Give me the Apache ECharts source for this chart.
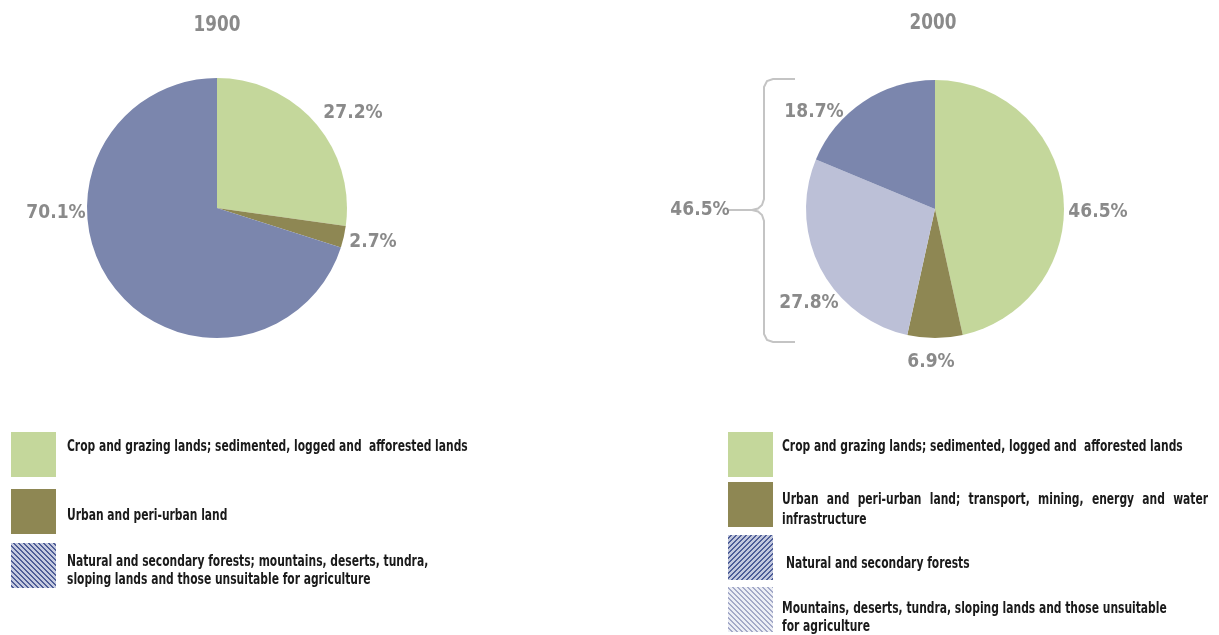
<!DOCTYPE html>
<html>
<head>
<meta charset="utf-8">
<script src="https://cdn.jsdelivr.net/npm/echarts@6/dist/echarts.min.js"></script>
<style>
  html, body { margin: 0; padding: 0; background: #ffffff; }
  #chart { width: 1219px; height: 635px; }
</style>
</head>
<body>
<div id="chart"></div>
<script>
// ---- data ----
const years = ['1900', '2000'];

const categories1900 = [
  'Crop and grazing lands; sedimented, logged and  afforested lands',
  'Urban and peri-urban land',
  'Natural and secondary forests; mountains, deserts, tundra,\nsloping lands and those unsuitable for agriculture'
];
const values1900 = [27.2, 2.7, 70.1];

const categories2000 = [
  'Crop and grazing lands; sedimented, logged and  afforested lands',
  'Urban and peri-urban land; transport, mining, energy and water\ninfrastructure',
  'Natural and secondary forests',
  'Mountains, deserts, tundra, sloping lands and those unsuitable\nfor agriculture'
];
const values2000 = [46.5, 6.9, 18.7, 27.8];

// clockwise slice order in the 2000 pie (category indices)
const sliceOrder2000 = [0, 1, 3, 2];
// categories grouped by the brace on the 2000 pie
const bracedCategories2000 = [2, 3];

// ---- styles / layout ----
const FONT = '"DejaVu Sans Condensed", "Liberation Sans Narrow", sans-serif';
const GREY = '#8a8a8a';
const COLORS = {
  crop: '#c4d79b',
  urban: '#8e8753',
  forest: '#7b86ad',
  mountain: '#bcc0d7'
};

const PIE_1900 = { center: [217, 208], radius: 130 };
const PIE_2000 = { center: [935, 209], radius: 129 };

// label anchor points per slice
const LABEL_POS_1900 = [[353, 113], [373, 242], [56, 213]];
const LABEL_POS_2000 = [[1098, 212], [931, 362], [809, 303], [814, 112]];
const LABEL_SIZE = 19;

// striped swatch tile, drawn pixel by pixel so the stripes stay crisp
function hatch(bg, fg, dir) {
  const p = 5;
  const c = document.createElement('canvas');
  c.width = p; c.height = p;
  const ctx = c.getContext('2d');
  ctx.fillStyle = bg;
  ctx.fillRect(0, 0, p, p);
  ctx.fillStyle = fg;
  for (let y = 0; y < p; y++) {
    for (let x = 0; x < p; x++) {
      const d = dir === 'back' ? x - y : x + y;
      const m = ((d % p) + p) % p;
      if (m < 2) ctx.fillRect(x, y, 1, 1);
    }
  }
  return { image: c, repeat: 'repeat' };
}

const swatch1900 = [COLORS.crop, COLORS.urban, hatch('#c6cbe0', '#4e5d97', 'back')];
const swatch2000 = [COLORS.crop, COLORS.urban, hatch('#c3c9de', '#4f5e98', 'fwd'), hatch('#eceef5', '#a3a9c8', 'back')];

const legend1900 = {
  x: 11, textX: 67,
  boxes: [432, 489, 543],
  textY: [[447], [516], [562, 580]]
};
const legend2000 = {
  x: 728, textX: 782,
  boxes: [432, 482, 535, 587],
  textY: [[447], [500, 520], [564], [609, 627]],
  justify: { 1: 1208 }
};

const LEGEND_FONT_SIZE = 16;
const LEGEND_SQUEEZE = 0.745;
const LEGEND_FONT = 'bold ' + LEGEND_FONT_SIZE + 'px ' + FONT;
const measureCtx = document.createElement('canvas').getContext('2d');
measureCtx.font = LEGEND_FONT;

function legendText(text, x, y) {
  return {
    type: 'text', x: x, y: y, scaleX: LEGEND_SQUEEZE,
    style: { text: text, fill: '#1a1a1a', font: LEGEND_FONT, textVerticalAlign: 'middle' }
  };
}

// spread the words of a line so it spans from x to right
function justified(text, x, y, right) {
  const words = text.split(/\s+/);
  const widths = words.map(w => measureCtx.measureText(w).width * LEGEND_SQUEEZE);
  const total = widths.reduce((a, b) => a + b, 0);
  const gap = (right - x - total) / (words.length - 1);
  const out = [];
  let cx = x;
  words.forEach((w, i) => {
    out.push(legendText(w, cx, y));
    cx += widths[i] + gap;
  });
  return out;
}

function buildLegend(cats, swatches, lay, indent) {
  const els = [];
  cats.forEach((name, i) => {
    els.push({
      type: 'rect',
      shape: { x: lay.x, y: lay.boxes[i], width: 45, height: 45 },
      style: { fill: swatches[i] }
    });
    const lines = name.split('\n');
    const tx = lay.textX + (indent && indent[i] ? indent[i] : 0);
    lines.forEach((ln, j) => {
      if (lay.justify && lay.justify[i] && j === 0) {
        els.push(...justified(ln, tx, lay.textY[i][j], lay.justify[i]));
      } else {
        els.push(legendText(ln, tx, lay.textY[i][j]));
      }
    });
  });
  return els;
}

const pieColors2000 = [COLORS.crop, COLORS.urban, COLORS.forest, COLORS.mountain];
const pieData1900 = categories1900.map((n, i) => ({
  name: n, value: values1900[i],
  itemStyle: { color: [COLORS.crop, COLORS.urban, COLORS.forest][i] }
}));
const pieData2000 = sliceOrder2000.map(i => ({
  name: categories2000[i], value: values2000[i],
  itemStyle: { color: pieColors2000[i] }
}));

const bracedTotal = bracedCategories2000.reduce((s, i) => s + values2000[i], 0);

function pieSeries(data, geom, labelPos) {
  return {
    type: 'pie',
    center: geom.center,
    radius: geom.radius,
    startAngle: 90,
    clockwise: true,
    avoidLabelOverlap: false,
    animation: false,
    silent: true,
    data: data,
    itemStyle: { borderWidth: 0 },
    label: {
      show: true,
      position: 'outside',
      formatter: p => p.value.toFixed(1) + '%',
      fontFamily: FONT,
      fontWeight: 'bold',
      fontSize: LABEL_SIZE,
      color: GREY
    },
    labelLine: { show: false },
    labelLayout: p => ({
      x: labelPos[p.dataIndex][0],
      y: labelPos[p.dataIndex][1],
      align: 'center',
      verticalAlign: 'middle'
    })
  };
}

// brace grouping the two non-agricultural slices of 2000
const BRACE_STYLE = { fill: null, stroke: '#c4c4c4', lineWidth: 2 };
const brace = [
  { type: 'polyline', shape: { points: [[795, 79], [773, 79], [767, 81], [764, 87], [764, 199], [762, 205], [758, 208.5], [752, 210]] }, style: BRACE_STYLE },
  { type: 'polyline', shape: { points: [[752, 210], [758, 211.5], [762, 215], [764, 221], [764, 334], [767, 340], [773, 342], [795, 342]] }, style: BRACE_STYLE },
  { type: 'line', shape: { x1: 752, y1: 210, x2: 729, y2: 210 }, style: BRACE_STYLE }
];

function yearTitle(text, x, y) {
  return {
    type: 'text', x: x, y: y, scaleX: 0.85,
    style: { text: text, fill: GREY, font: 'bold 22px ' + FONT, textAlign: 'center', textVerticalAlign: 'middle' }
  };
}

const graphics = [
  yearTitle(years[0], 217, 25),
  yearTitle(years[1], 933, 23),
  { type: 'text', x: 700, y: 210, style: { text: bracedTotal.toFixed(1) + '%', fill: GREY, font: 'bold ' + LABEL_SIZE + 'px ' + FONT, textAlign: 'center', textVerticalAlign: 'middle' } }
].concat(brace)
 .concat(buildLegend(categories1900, swatch1900, legend1900))
 .concat(buildLegend(categories2000, swatch2000, legend2000, { 2: 4 }));

const chart = echarts.init(document.getElementById('chart'), null, { renderer: 'canvas' });
chart.setOption({
  backgroundColor: '#ffffff',
  animation: false,
  series: [
    pieSeries(pieData1900, PIE_1900, LABEL_POS_1900),
    pieSeries(pieData2000, PIE_2000, LABEL_POS_2000)
  ],
  graphic: graphics
});
</script>
</body>
</html>
